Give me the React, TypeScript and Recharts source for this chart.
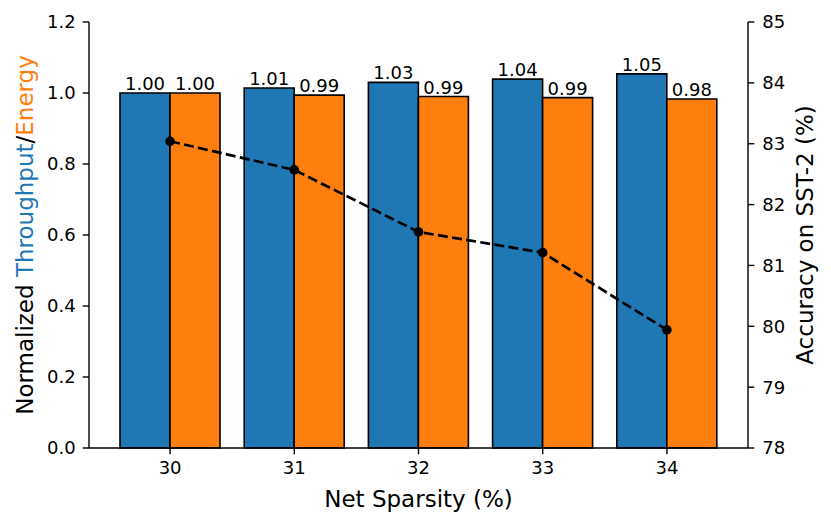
import React from 'react';
import {
  ComposedChart, Bar, Line, XAxis, YAxis, LabelList, Label
} from 'recharts';

// values
const sparsity = ['30', '31', '32', '33', '34'];
const throughput = [1.0, 1.014, 1.03, 1.039, 1.054];
const energy = [1.0, 0.994, 0.99, 0.987, 0.983];
const accuracy = [83.04, 82.57, 81.55, 81.21, 79.94];

const leftTicks = [0, 0.2, 0.4, 0.6, 0.8, 1.0, 1.2];
const rightTicks = [78, 79, 80, 81, 82, 83, 84, 85];

const BLUE = '#1f77b4';
const ORANGE = '#ff7f0e';
const FONT = 'DejaVu Sans';

const data = sparsity.map((s, i) => ({
  sparsity: s,
  throughput: throughput[i],
  energy: energy[i],
  accuracy: accuracy[i],
}));

const LeftTitle = (props: any) => {
  const { viewBox } = props;
  const x = viewBox.x + 32.5;
  const y = viewBox.y + viewBox.height / 2;
  return (
    <text x={x} y={y} transform={`rotate(-90 ${x} ${y})`} textAnchor="middle"
      fontSize={23} fontFamily={FONT}>
      <tspan fill="#000">Normalized </tspan>
      <tspan fill={BLUE}>Throughput</tspan>
      <tspan fill="#000">/</tspan>
      <tspan fill={ORANGE}>Energy</tspan>
    </text>
  );
};

const RightTitle = (props: any) => {
  const { viewBox } = props;
  const x = viewBox.x + 65;
  const y = viewBox.y + viewBox.height / 2;
  return (
    <text x={x} y={y} transform={`rotate(-90 ${x} ${y})`} textAnchor="middle"
      fontSize={23} fontFamily={FONT} fill="#000">
      Accuracy on SST-2 (%)
    </text>
  );
};

const BottomTitle = (props: any) => {
  const { viewBox } = props;
  return (
    <text x={viewBox.x + viewBox.width / 2} y={viewBox.y + 58.5} textAnchor="middle"
      fontSize={23} fontFamily={FONT} fill="#000">
      Net Sparsity (%)
    </text>
  );
};

const tickStyle = { fill: '#000', fontSize: 18, fontFamily: FONT };
const axisLine = { stroke: '#000', strokeWidth: 1.4 };
const tickLine = { stroke: '#000', strokeWidth: 1.4 };

export default function App() {
  return (
    <div style={{ margin: -8, width: 831, height: 526, background: '#fff', fontFamily: FONT }}>
      <ComposedChart
        width={831}
        height={526}
        data={data}
        margin={{ top: 22, right: 0, bottom: 0, left: 0 }}
        barCategoryGap={12}
        barGap={0}
      >
        <XAxis
          dataKey="sparsity"
          height={78}
          padding={{ left: 19, right: 19 }}
          tick={tickStyle}
          tickSize={6.3}
          tickMargin={7}
          axisLine={axisLine}
          tickLine={tickLine}
          label={<Label content={<BottomTitle />} />}
        />
        <XAxis
          xAxisId="top"
          dataKey="sparsity"
          orientation="top"
          height={0}
          tick={false}
          tickLine={false}
          axisLine={axisLine}
        />
        <YAxis
          yAxisId="left"
          width={89}
          domain={[0, 1.2]}
          ticks={leftTicks}
          tickFormatter={(v: number) => v.toFixed(1)}
          tick={tickStyle}
          tickSize={6.3}
          tickMargin={7}
          axisLine={axisLine}
          tickLine={tickLine}
          label={<Label content={<LeftTitle />} />}
        />
        <YAxis
          yAxisId="right"
          orientation="right"
          width={83}
          domain={[78, 85]}
          ticks={rightTicks}
          tick={tickStyle}
          tickSize={6.3}
          tickMargin={8}
          axisLine={axisLine}
          tickLine={tickLine}
          label={<Label content={<RightTitle />} />}
        />
        <Bar yAxisId="left" dataKey="throughput" fill={BLUE} stroke="#000" strokeWidth={1.6}
          isAnimationActive={false}>
          <LabelList dataKey="throughput" position="top" offset={3}
            formatter={(v: any) => Number(v).toFixed(2)}
            fill="#000" fontSize={18} fontFamily={FONT} />
        </Bar>
        <Bar yAxisId="left" dataKey="energy" fill={ORANGE} stroke="#000" strokeWidth={1.6}
          isAnimationActive={false}>
          <LabelList dataKey="energy" position="top" offset={3}
            formatter={(v: any) => Number(v).toFixed(2)}
            fill="#000" fontSize={18} fontFamily={FONT} />
        </Bar>
        <Line
          yAxisId="right"
          dataKey="accuracy"
          stroke="#000"
          strokeWidth={2.7}
          strokeDasharray="10 4.3"
          dot={{ r: 4.8, fill: '#000', stroke: 'none' }}
          activeDot={false}
          isAnimationActive={false}
        />
      </ComposedChart>
    </div>
  );
}
